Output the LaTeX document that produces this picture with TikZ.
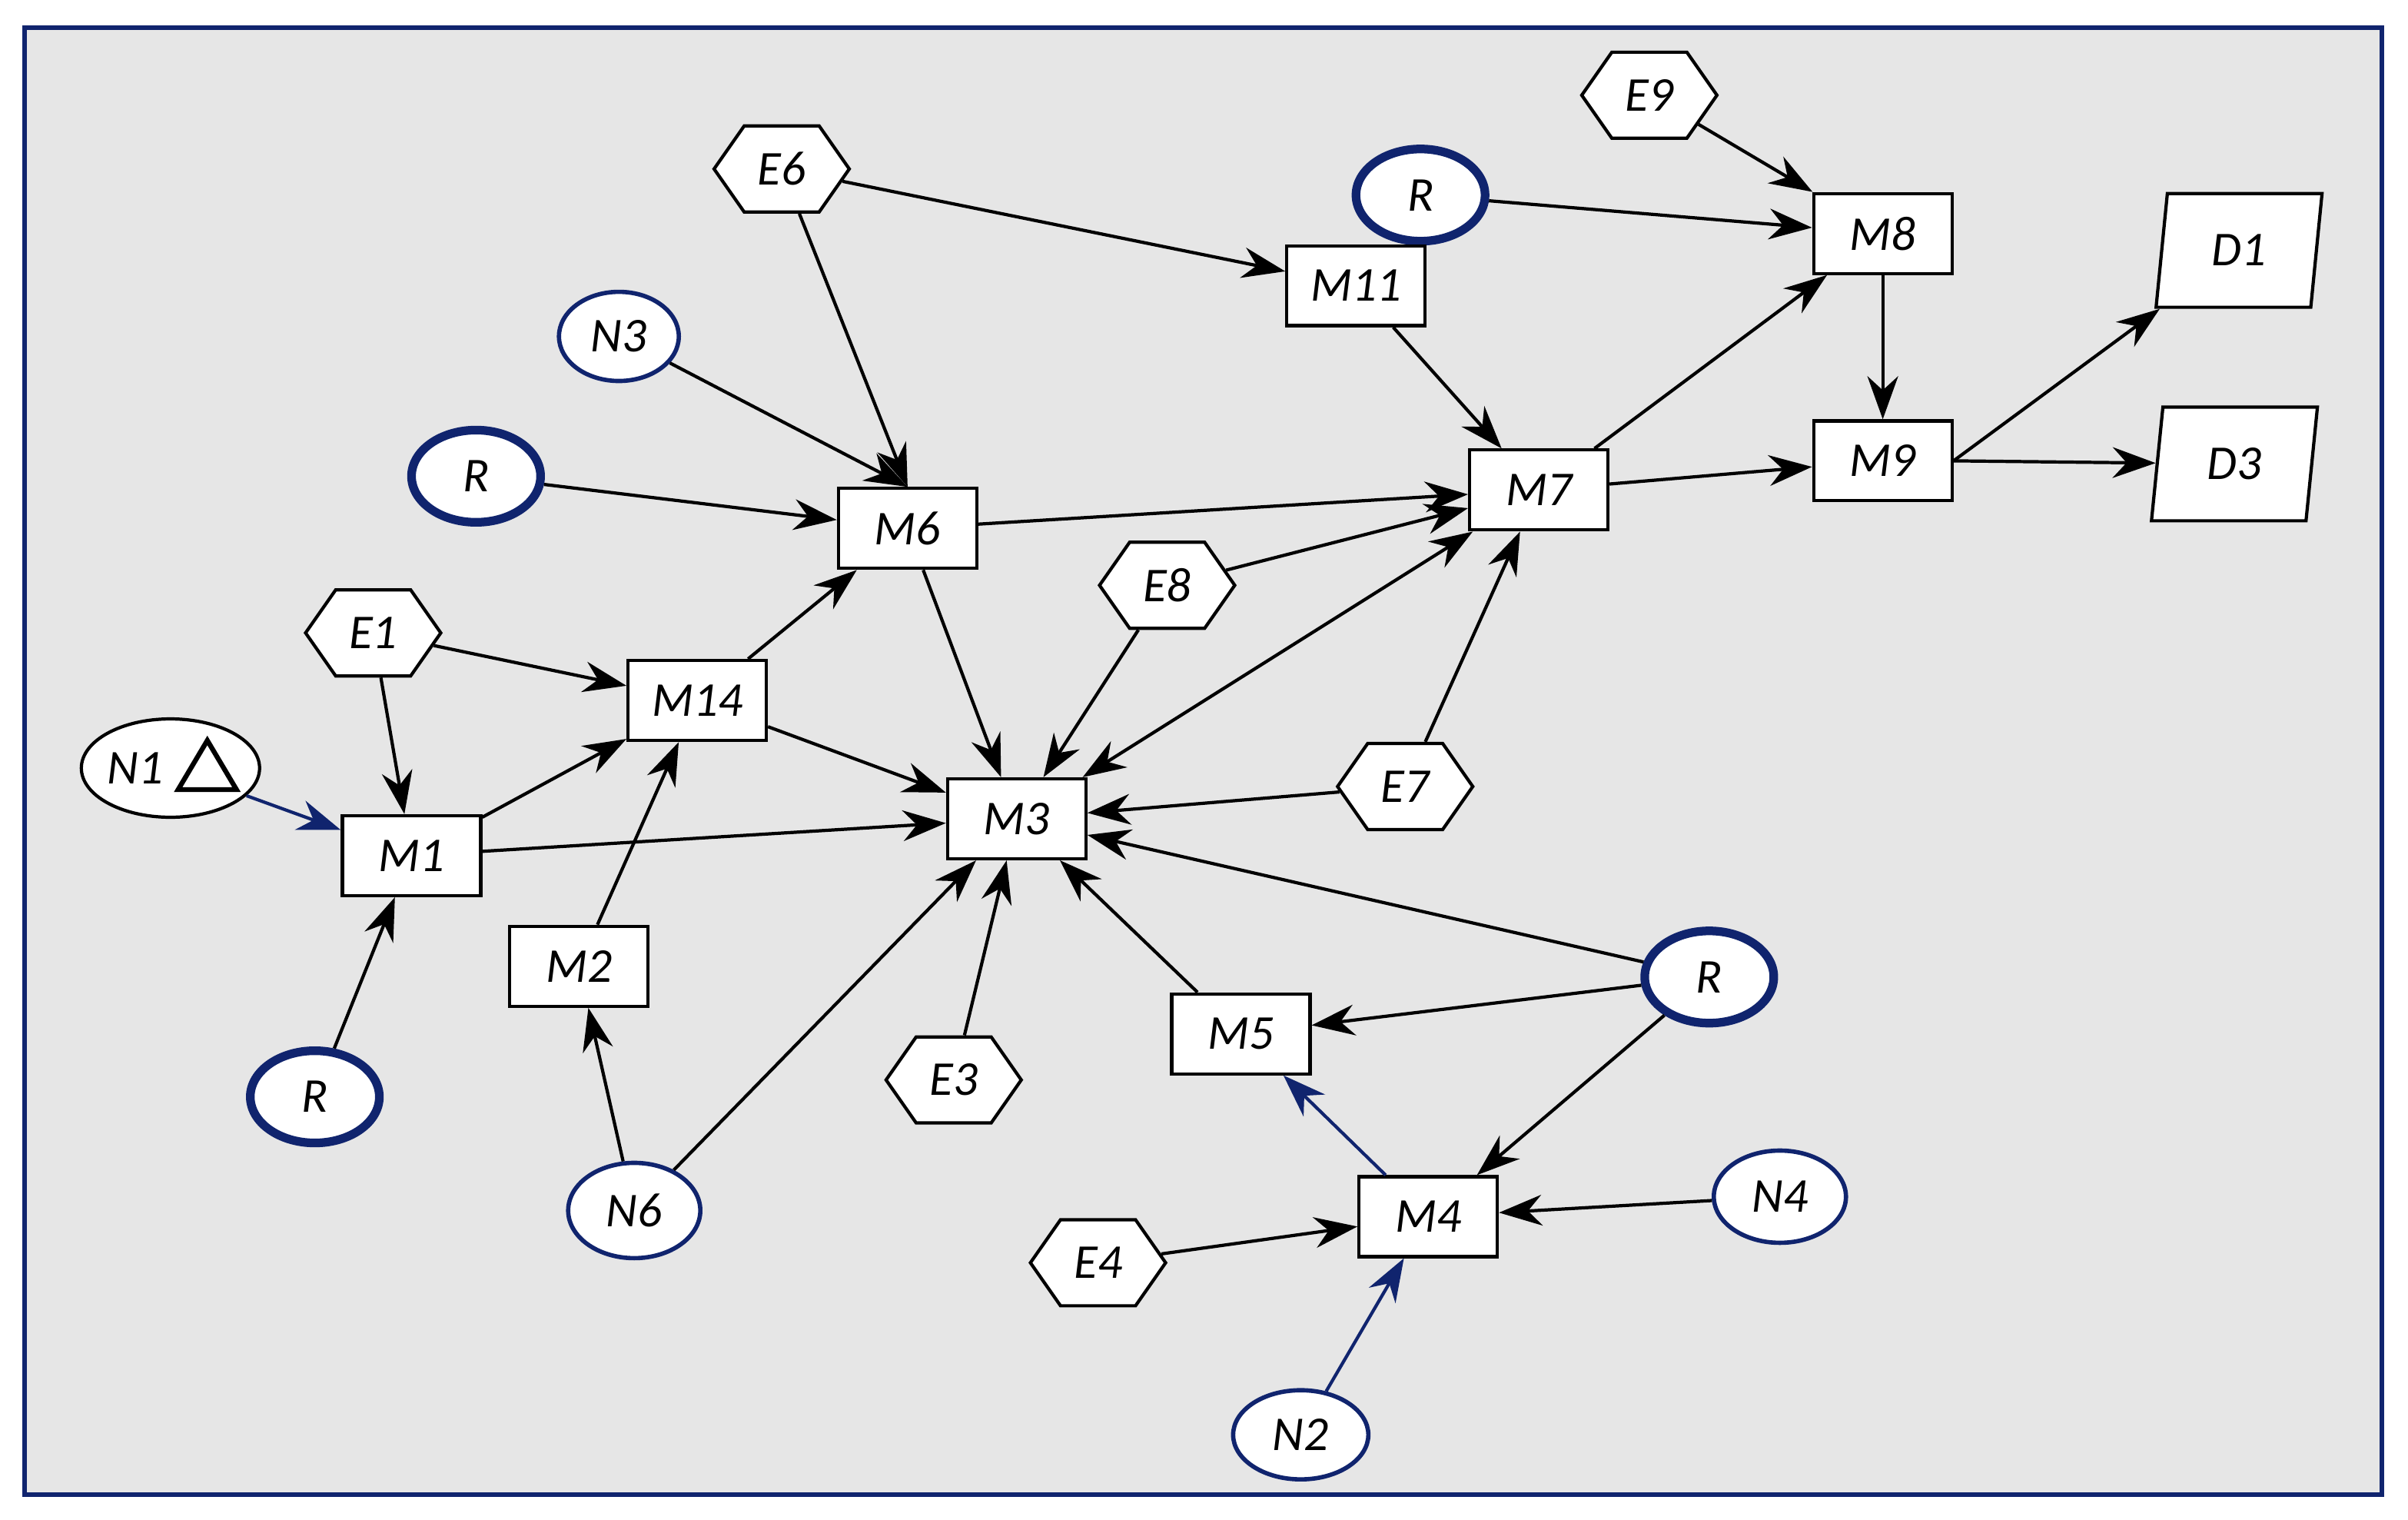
\documentclass[tikz,border=0pt]{standalone}
\usepackage{fontspec}
\setmainfont{Carlito}
\usetikzlibrary{shapes.geometric,shapes.symbols,arrows.meta}
\definecolor{nb}{RGB}{16,36,110}
\definecolor{bg}{RGB}{230,230,230}
\begin{document}
\begin{tikzpicture}[x=0.01cm,y=-0.01cm,
  every node/.style={font=\fontsize{9}{10}\selectfont\itshape},
  m/.style={draw,fill=white,line width=0.6pt,minimum width=0.9cm,minimum height=0.52cm,inner sep=0},
  h/.style={draw,fill=white,line width=0.6pt,signal,signal to=east and west,signal pointer angle=110,minimum width=0.88cm,minimum height=0.56cm,inner sep=0},
  n/.style={draw=nb,fill=white,ellipse,line width=0.8pt,minimum width=0.78cm,minimum height=0.58cm,inner sep=0},
  r/.style={n,line width=1.6pt,minimum width=0.84cm,minimum height=0.6cm},
  d/.style={draw,fill=white,line width=0.6pt,trapezium,trapezium left angle=75,trapezium right angle=105,trapezium stretches body=true,minimum width=1.08cm,minimum height=0.74cm,inner sep=1pt},
  a/.style={-{Stealth[length=0.28cm,width=0.2cm]},line width=0.6pt},
  b/.style={a,draw=nb}]
\useasboundingbox (0,0) rectangle (1568,989);
\draw[nb,fill=bg,line width=0.8pt] (16,18) rectangle (1551,973);
\node[h] (E6) at (509,110) {E6};
\node[h] (E9) at (1074,62) {E9};
\node[r] (R1) at (925,127) {R};
\node[m] (M8) at (1226,152) {M8};
\node[d] (D1) at (1458,163) {D1};
\node[m] (M11) at (883,186) {M11};
\node[n] (N3) at (403,219) {N3};
\node[r] (R2) at (310,310) {R};
\node[m] (M6) at (591,344) {M6};
\node[m] (M7) at (1002,319) {M7};
\node[m] (M9) at (1226,300) {M9};
\node[d] (D3) at (1455,302) {D3};
\node[h] (E8) at (760,381) {E8};
\node[h] (E1) at (243,412) {E1};
\node[m] (M14) at (454,456) {M14};
\node[draw,fill=white,ellipse,line width=0.6pt,minimum width=1.16cm,minimum height=0.64cm] (N1) at (111,500) {};
\node at (88,500) {N1};
\draw[line width=0.9pt] (116,514)--(154,514)--(135,482)--cycle;
\node[m] (M1) at (268,557) {M1};
\node[m] (M3) at (662,533) {M3};
\node[h] (E7) at (915,512) {E7};
\node[m] (M2) at (377,629) {M2};
\node[r] (R3) at (1113,636) {R};
\node[m] (M5) at (808,673) {M5};
\node[h] (E3) at (621,703) {E3};
\node[r] (R4) at (205,714) {R};
\node[n,minimum width=0.86cm,minimum height=0.62cm] (N6) at (413,788) {N6};
\node[m] (M4) at (930,792) {M4};
\node[n,minimum width=0.86cm,minimum height=0.6cm] (N4) at (1159,779) {N4};
\node[h] (E4) at (715,822) {E4};
\node[n,minimum width=0.88cm,minimum height=0.58cm] (N2) at (847,934) {N2};
\draw[a] (E6)--(M11); \draw[a] (E6)--(M6.north);
\draw[a] (R1)--(M8); \draw[a] (E9)--(M8); \draw[a] (M8)--(M9);
\draw[a] (M11)--(M7); \draw[a] (N3)--(M6.north); \draw[a] (R2)--(M6);
\draw[a] (M6)--(M7); \draw[a] (M6)--(M3);
\draw[a] (M7)--(M8); \draw[a] (M7)--(M9);
\draw[a] (M9.east)--(D1); \draw[a] (M9.east)--(D3);
\draw[a] (E8)--(M7); \draw[a] (E8)--(M3);
\draw[a,{Stealth[length=0.28cm,width=0.2cm]}-{Stealth[length=0.28cm,width=0.2cm]}] (M3)--(M7);
\draw[a] (E7)--(M7); \draw[a] (E7)--(M3);
\draw[a] (E1)--(M14); \draw[a] (E1)--(M1);
\draw[a] (M14)--(M6); \draw[a] (M14)--(M3);
\draw[b] (N1)--(M1);
\draw[a] (M1)--(M14); \draw[a] (M1)--(M3);
\draw[a] (M2)--(M14); \draw[a] (N6)--(M2); \draw[a] (N6)--(M3);
\draw[a] (R4)--(M1); \draw[a] (E3)--(M3); \draw[a] (M5)--(M3);
\draw[a] (R3)--(M3); \draw[a] (R3)--(M5); \draw[a] (R3)--(M4);
\draw[b] (N2)--(M4); \draw[b] (M4)--(M5);
\draw[a] (E4)--(M4); \draw[a] (N4)--(M4);
\end{tikzpicture}
\end{document}
